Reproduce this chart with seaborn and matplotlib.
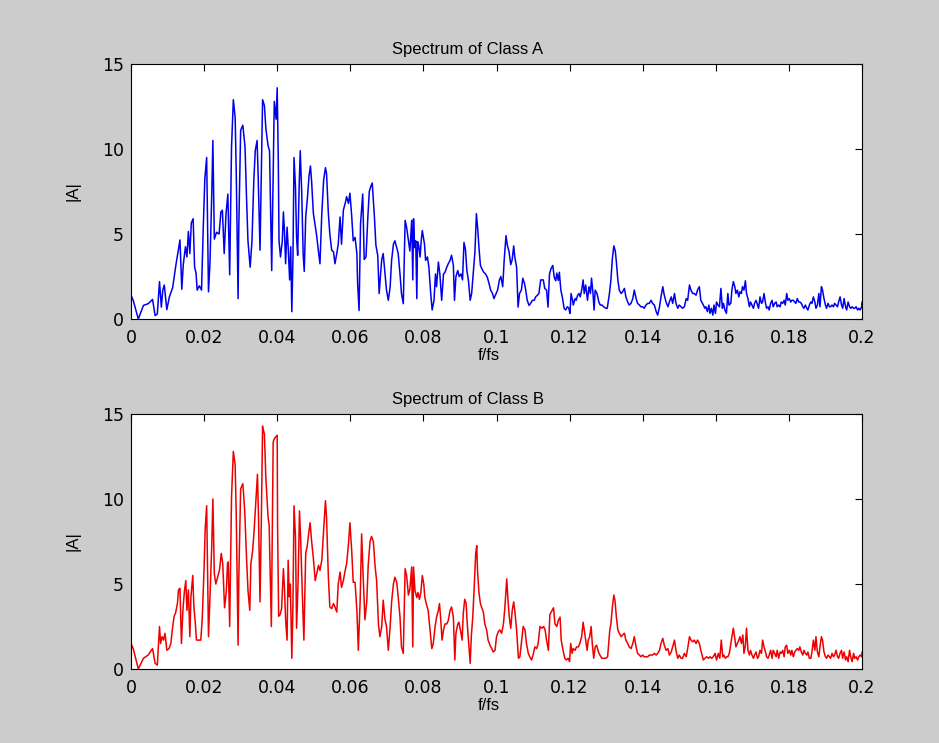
import matplotlib
matplotlib.use("Agg")
import matplotlib.pyplot as plt
import pandas as pd
import seaborn as sns

# Spectrum vertices (normalised frequency f/fs, magnitude |A|)
freq_a = [
    0.0000, 0.0006, 0.0020, 0.0034, 0.0047, 0.0059, 0.0066, 0.0072, 0.0078, 0.0083,
    0.0087, 0.0091, 0.0098, 0.0105, 0.0114, 0.0123, 0.0130, 0.0134, 0.0139, 0.0143,
    0.0149, 0.0153, 0.0157, 0.0161, 0.0165, 0.0170, 0.0174, 0.0178, 0.0181, 0.0187,
    0.0193, 0.0198, 0.0202, 0.0207, 0.0212, 0.0216, 0.0221, 0.0224, 0.0228, 0.0234,
    0.0241, 0.0246, 0.0250, 0.0255, 0.0260, 0.0265, 0.0270, 0.0275, 0.0280, 0.0285,
    0.0288, 0.0293, 0.0295, 0.0300, 0.0306, 0.0312, 0.0316, 0.0320, 0.0326, 0.0331,
    0.0336, 0.0340, 0.0345, 0.0348, 0.0353, 0.0357, 0.0360, 0.0365, 0.0369, 0.0375,
    0.0379, 0.0382, 0.0385, 0.0392, 0.0397, 0.0400, 0.0403, 0.0405, 0.0409, 0.0414,
    0.0417, 0.0420, 0.0423, 0.0427, 0.0430, 0.0434, 0.0437, 0.0440, 0.0443, 0.0446,
    0.0450, 0.0453, 0.0456, 0.0460, 0.0463, 0.0467, 0.0471, 0.0474, 0.0478, 0.0483,
    0.0487, 0.0491, 0.0494, 0.0499, 0.0504, 0.0508, 0.0513, 0.0517, 0.0522, 0.0527,
    0.0532, 0.0535, 0.0540, 0.0544, 0.0549, 0.0554, 0.0558, 0.0563, 0.0567, 0.0572,
    0.0576, 0.0581, 0.0586, 0.0590, 0.0595, 0.0599, 0.0604, 0.0608, 0.0613, 0.0618,
    0.0620, 0.0624, 0.0628, 0.0634, 0.0638, 0.0643, 0.0648, 0.0652, 0.0656, 0.0660,
    0.0666, 0.0670, 0.0675, 0.0679, 0.0682, 0.0686, 0.0690, 0.0695, 0.0699, 0.0704,
    0.0709, 0.0713, 0.0718, 0.0722, 0.0727, 0.0731, 0.0736, 0.0740, 0.0745, 0.0750,
    0.0754, 0.0759, 0.0763, 0.0768, 0.0771, 0.0773, 0.0776, 0.0779, 0.0782, 0.0784,
    0.0787, 0.0791, 0.0794, 0.0797, 0.0800, 0.0803, 0.0806, 0.0811, 0.0815, 0.0820,
    0.0824, 0.0829, 0.0833, 0.0836, 0.0841, 0.0845, 0.0850, 0.0855, 0.0859, 0.0864,
    0.0868, 0.0873, 0.0877, 0.0882, 0.0885, 0.0889, 0.0894, 0.0898, 0.0903, 0.0907,
    0.0911, 0.0915, 0.0919, 0.0923, 0.0928, 0.0932, 0.0937, 0.0941, 0.0945, 0.0949,
    0.0952, 0.0956, 0.0960, 0.0965, 0.0970, 0.0975, 0.0980, 0.0984, 0.0989, 0.0993,
    0.0999, 0.1003, 0.1008, 0.1012, 0.1017, 0.1021, 0.1026, 0.1030, 0.1034, 0.1039,
    0.1043, 0.1047, 0.1050, 0.1055, 0.1059, 0.1063, 0.1068, 0.1072, 0.1077, 0.1080,
    0.1084, 0.1089, 0.1093, 0.1098, 0.1103, 0.1107, 0.1112, 0.1116, 0.1121, 0.1124,
    0.1128, 0.1132, 0.1137, 0.1141, 0.1145, 0.1149, 0.1154, 0.1158, 0.1162, 0.1165,
    0.1169, 0.1172, 0.1176, 0.1180, 0.1185, 0.1189, 0.1194, 0.1198, 0.1201, 0.1204,
    0.1208, 0.1210, 0.1215, 0.1218, 0.1222, 0.1226, 0.1229, 0.1233, 0.1237, 0.1240,
    0.1244, 0.1249, 0.1253, 0.1257, 0.1260, 0.1264, 0.1267, 0.1270, 0.1275, 0.1280,
    0.1284, 0.1289, 0.1293, 0.1299, 0.1303, 0.1309, 0.1313, 0.1317, 0.1321, 0.1325,
    0.1328, 0.1332, 0.1336, 0.1341, 0.1345, 0.1350, 0.1354, 0.1359, 0.1363, 0.1368,
    0.1373, 0.1377, 0.1382, 0.1386, 0.1391, 0.1395, 0.1400, 0.1404, 0.1409, 0.1414,
    0.1418, 0.1423, 0.1427, 0.1432, 0.1437, 0.1441, 0.1446, 0.1450, 0.1455, 0.1459,
    0.1464, 0.1469, 0.1473, 0.1478, 0.1482, 0.1487, 0.1491, 0.1496, 0.1500, 0.1505,
    0.1509, 0.1514, 0.1519, 0.1523, 0.1528, 0.1532, 0.1537, 0.1541, 0.1546, 0.1550,
    0.1555, 0.1559, 0.1566, 0.1570, 0.1573, 0.1577, 0.1581, 0.1584, 0.1588, 0.1592,
    0.1595, 0.1599, 0.1602, 0.1606, 0.1610, 0.1614, 0.1618, 0.1621, 0.1625, 0.1629,
    0.1633, 0.1636, 0.1641, 0.1644, 0.1648, 0.1652, 0.1655, 0.1659, 0.1663, 0.1666,
    0.1670, 0.1673, 0.1677, 0.1681, 0.1684, 0.1688, 0.1692, 0.1695, 0.1699, 0.1703,
    0.1706, 0.1710, 0.1714, 0.1717, 0.1721, 0.1725, 0.1728, 0.1732, 0.1736, 0.1739,
    0.1743, 0.1746, 0.1750, 0.1754, 0.1757, 0.1761, 0.1765, 0.1768, 0.1772, 0.1776,
    0.1779, 0.1783, 0.1787, 0.1790, 0.1794, 0.1797, 0.1801, 0.1805, 0.1808, 0.1812,
    0.1816, 0.1819, 0.1823, 0.1827, 0.1830, 0.1834, 0.1838, 0.1841, 0.1845, 0.1849,
    0.1852, 0.1856, 0.1860, 0.1863, 0.1867, 0.1871, 0.1874, 0.1878, 0.1882, 0.1885,
    0.1889, 0.1892, 0.1896, 0.1900, 0.1903, 0.1907, 0.1911, 0.1914, 0.1918, 0.1922,
    0.1925, 0.1929, 0.1933, 0.1936, 0.1940, 0.1944, 0.1947, 0.1951, 0.1955, 0.1958,
    0.1962, 0.1966, 0.1969, 0.1973, 0.1977, 0.1980, 0.1984, 0.1988, 0.1991, 0.1995,
    0.1999, 0.2000,
]
amp_a = [
    1.40, 1.10, 0.00, 0.80, 0.90, 1.15, 0.20, 0.30, 2.20, 0.70,
    1.70, 2.00, 0.55, 1.30, 1.85, 3.20, 4.10, 4.65, 1.75, 3.20,
    4.25, 3.65, 5.15, 3.85, 5.65, 5.90, 3.05, 2.70, 1.70, 1.95,
    1.70, 5.60, 8.25, 9.50, 1.60, 3.25, 7.35, 10.50, 4.70, 5.10,
    5.00, 6.30, 6.40, 3.85, 6.20, 7.35, 2.60, 10.10, 12.90, 11.85,
    8.55, 1.20, 5.50, 11.10, 11.40, 10.10, 7.20, 4.60, 3.05, 4.60,
    8.15, 9.90, 10.50, 8.35, 4.05, 8.90, 12.90, 12.55, 11.20, 10.20,
    9.90, 6.30, 2.85, 12.80, 11.75, 13.60, 9.30, 4.60, 3.65, 4.60,
    6.30, 5.10, 3.25, 5.40, 4.25, 2.30, 4.25, 0.43, 3.45, 9.50,
    7.75, 4.80, 3.75, 7.75, 9.90, 7.50, 3.85, 2.80, 6.00, 7.20,
    8.40, 9.00, 8.15, 6.20, 5.50, 4.90, 3.95, 3.25, 6.20, 8.15,
    8.90, 8.55, 6.20, 5.00, 4.05, 3.95, 3.25, 3.85, 4.40, 6.00,
    4.40, 6.40, 6.80, 7.20, 6.80, 7.40, 6.00, 4.60, 4.80, 3.85,
    2.10, 0.50, 5.60, 7.35, 3.50, 3.65, 6.00, 7.50, 7.80, 8.00,
    6.00, 4.35, 3.75, 1.50, 2.40, 3.50, 3.85, 2.65, 1.70, 1.10,
    1.90, 3.45, 4.40, 4.60, 4.20, 3.85, 2.65, 1.50, 0.90, 5.80,
    5.40, 4.60, 4.00, 5.80, 2.30, 5.90, 4.20, 4.60, 1.20, 4.55,
    4.35, 3.65, 4.60, 5.20, 4.80, 4.40, 3.45, 3.65, 3.05, 1.50,
    0.53, 1.10, 2.65, 1.90, 3.35, 2.65, 1.10, 2.65, 2.75, 3.05,
    3.25, 3.45, 3.75, 3.15, 1.10, 2.50, 2.85, 2.50, 2.65, 2.30,
    4.50, 4.10, 2.85, 2.30, 1.10, 1.50, 2.85, 3.95, 6.20, 5.20,
    4.20, 3.15, 2.95, 2.75, 2.65, 2.45, 2.05, 1.70, 1.50, 1.20,
    1.50, 1.70, 2.30, 2.50, 1.90, 3.45, 4.90, 4.30, 4.00, 3.20,
    3.50, 4.30, 3.65, 3.05, 0.70, 1.50, 1.70, 2.40, 2.05, 1.70,
    1.10, 0.80, 0.90, 1.10, 1.10, 1.30, 1.40, 1.50, 2.30, 2.30,
    2.30, 1.80, 1.70, 0.70, 2.65, 2.95, 3.15, 2.45, 2.25, 2.70,
    2.27, 2.75, 1.70, 1.30, 0.63, 0.53, 0.72, 0.63, 0.33, 1.50,
    1.10, 0.82, 1.20, 1.10, 1.40, 1.50, 1.30, 1.70, 2.30, 1.50,
    2.00, 1.10, 1.90, 1.50, 2.40, 1.50, 0.53, 1.70, 1.50, 1.00,
    0.82, 0.82, 0.72, 0.63, 0.63, 1.50, 2.30, 3.55, 4.30, 4.00,
    3.35, 2.30, 1.70, 1.50, 1.60, 1.80, 1.30, 1.00, 0.82, 0.92,
    1.20, 1.70, 1.20, 0.92, 0.82, 0.72, 0.72, 0.63, 0.82, 0.92,
    0.92, 1.10, 0.92, 0.82, 0.43, 0.23, 0.72, 1.30, 1.90, 1.40,
    1.00, 0.72, 1.00, 1.30, 0.92, 1.50, 0.92, 0.63, 0.82, 0.72,
    0.63, 0.72, 1.20, 1.10, 2.00, 1.70, 1.50, 1.50, 1.40, 1.70,
    1.90, 1.10, 0.82, 0.63, 0.72, 0.43, 0.82, 0.33, 0.63, 0.23,
    0.82, 0.33, 1.00, 0.82, 0.72, 1.80, 0.63, 0.92, 0.53, 0.33,
    1.50, 0.82, 0.92, 1.70, 2.20, 1.90, 1.50, 1.70, 1.30, 1.60,
    1.50, 1.90, 1.70, 2.25, 1.50, 1.20, 0.72, 1.00, 0.82, 0.63,
    0.92, 1.10, 0.82, 0.63, 1.30, 0.92, 1.00, 1.50, 0.92, 0.63,
    0.72, 0.53, 0.92, 1.10, 0.72, 0.92, 1.00, 0.72, 0.82, 0.72,
    1.00, 0.92, 1.10, 0.82, 1.50, 1.10, 1.20, 1.00, 1.10, 1.10,
    1.00, 0.92, 1.20, 1.00, 1.00, 0.92, 0.72, 0.63, 0.82, 0.63,
    0.53, 0.82, 1.00, 0.92, 1.30, 1.00, 0.63, 0.82, 1.50, 0.72,
    1.90, 1.70, 1.20, 0.82, 0.63, 0.92, 0.72, 0.72, 0.82, 0.72,
    0.92, 0.82, 0.72, 1.00, 1.30, 0.82, 0.63, 1.20, 0.72, 0.53,
    1.00, 0.72, 0.63, 0.72, 0.63, 0.63, 0.72, 0.53, 0.63, 0.53,
    0.72, 1.00,
]

freq_b = [
    0.0000, 0.0006, 0.0020, 0.0034, 0.0047, 0.0059, 0.0066, 0.0072, 0.0078, 0.0081,
    0.0085, 0.0089, 0.0093, 0.0098, 0.0104, 0.0109, 0.0113, 0.0118, 0.0122, 0.0127,
    0.0130, 0.0134, 0.0138, 0.0142, 0.0146, 0.0150, 0.0153, 0.0157, 0.0161, 0.0164,
    0.0169, 0.0172, 0.0176, 0.0179, 0.0185, 0.0191, 0.0195, 0.0200, 0.0203, 0.0207,
    0.0212, 0.0216, 0.0221, 0.0224, 0.0228, 0.0232, 0.0237, 0.0242, 0.0247, 0.0251,
    0.0256, 0.0261, 0.0264, 0.0266, 0.0270, 0.0275, 0.0280, 0.0285, 0.0288, 0.0293,
    0.0295, 0.0300, 0.0306, 0.0311, 0.0316, 0.0320, 0.0325, 0.0328, 0.0333, 0.0337,
    0.0342, 0.0346, 0.0349, 0.0353, 0.0357, 0.0360, 0.0365, 0.0369, 0.0375, 0.0378,
    0.0381, 0.0384, 0.0389, 0.0392, 0.0396, 0.0400, 0.0401, 0.0404, 0.0408, 0.0412,
    0.0417, 0.0420, 0.0423, 0.0427, 0.0430, 0.0433, 0.0436, 0.0440, 0.0443, 0.0446,
    0.0450, 0.0453, 0.0457, 0.0461, 0.0464, 0.0469, 0.0473, 0.0478, 0.0482, 0.0486,
    0.0490, 0.0494, 0.0499, 0.0504, 0.0508, 0.0513, 0.0517, 0.0522, 0.0527, 0.0532,
    0.0535, 0.0540, 0.0544, 0.0549, 0.0554, 0.0558, 0.0563, 0.0567, 0.0572, 0.0576,
    0.0581, 0.0586, 0.0590, 0.0595, 0.0599, 0.0604, 0.0608, 0.0613, 0.0618, 0.0622,
    0.0627, 0.0631, 0.0636, 0.0640, 0.0645, 0.0649, 0.0654, 0.0658, 0.0663, 0.0668,
    0.0672, 0.0677, 0.0681, 0.0686, 0.0690, 0.0695, 0.0699, 0.0704, 0.0709, 0.0713,
    0.0718, 0.0722, 0.0727, 0.0731, 0.0736, 0.0740, 0.0745, 0.0750, 0.0754, 0.0759,
    0.0763, 0.0768, 0.0771, 0.0773, 0.0777, 0.0782, 0.0785, 0.0789, 0.0793, 0.0797,
    0.0801, 0.0804, 0.0809, 0.0813, 0.0818, 0.0823, 0.0827, 0.0832, 0.0836, 0.0841,
    0.0844, 0.0847, 0.0851, 0.0855, 0.0859, 0.0864, 0.0868, 0.0873, 0.0877, 0.0882,
    0.0886, 0.0889, 0.0894, 0.0897, 0.0902, 0.0906, 0.0909, 0.0913, 0.0917, 0.0920,
    0.0924, 0.0928, 0.0931, 0.0935, 0.0939, 0.0943, 0.0946, 0.0948, 0.0952, 0.0956,
    0.0959, 0.0964, 0.0968, 0.0973, 0.0977, 0.0982, 0.0987, 0.0991, 0.0996, 0.1000,
    0.1005, 0.1009, 0.1014, 0.1019, 0.1023, 0.1028, 0.1031, 0.1035, 0.1039, 0.1043,
    0.1047, 0.1050, 0.1055, 0.1060, 0.1064, 0.1069, 0.1073, 0.1078, 0.1082, 0.1087,
    0.1091, 0.1096, 0.1100, 0.1105, 0.1110, 0.1114, 0.1119, 0.1124, 0.1129, 0.1133,
    0.1137, 0.1142, 0.1146, 0.1151, 0.1156, 0.1160, 0.1165, 0.1169, 0.1174, 0.1177,
    0.1182, 0.1187, 0.1191, 0.1196, 0.1200, 0.1203, 0.1207, 0.1210, 0.1215, 0.1219,
    0.1224, 0.1228, 0.1233, 0.1237, 0.1240, 0.1244, 0.1248, 0.1251, 0.1255, 0.1259,
    0.1262, 0.1266, 0.1270, 0.1274, 0.1279, 0.1283, 0.1288, 0.1292, 0.1299, 0.1304,
    0.1310, 0.1313, 0.1317, 0.1321, 0.1324, 0.1328, 0.1332, 0.1336, 0.1341, 0.1345,
    0.1350, 0.1354, 0.1359, 0.1363, 0.1368, 0.1373, 0.1377, 0.1382, 0.1386, 0.1391,
    0.1395, 0.1400, 0.1404, 0.1409, 0.1414, 0.1418, 0.1423, 0.1427, 0.1432, 0.1437,
    0.1441, 0.1446, 0.1450, 0.1455, 0.1459, 0.1464, 0.1469, 0.1473, 0.1478, 0.1482,
    0.1487, 0.1491, 0.1496, 0.1500, 0.1505, 0.1509, 0.1514, 0.1519, 0.1523, 0.1528,
    0.1532, 0.1537, 0.1541, 0.1546, 0.1550, 0.1555, 0.1559, 0.1566, 0.1570, 0.1575,
    0.1580, 0.1584, 0.1589, 0.1593, 0.1598, 0.1602, 0.1607, 0.1611, 0.1615, 0.1619,
    0.1622, 0.1626, 0.1630, 0.1633, 0.1637, 0.1641, 0.1644, 0.1648, 0.1652, 0.1655,
    0.1659, 0.1663, 0.1666, 0.1670, 0.1674, 0.1677, 0.1681, 0.1684, 0.1688, 0.1692,
    0.1695, 0.1699, 0.1703, 0.1706, 0.1710, 0.1714, 0.1717, 0.1721, 0.1725, 0.1728,
    0.1732, 0.1736, 0.1739, 0.1743, 0.1746, 0.1750, 0.1754, 0.1757, 0.1761, 0.1765,
    0.1768, 0.1772, 0.1776, 0.1779, 0.1783, 0.1787, 0.1790, 0.1794, 0.1797, 0.1801,
    0.1805, 0.1808, 0.1812, 0.1816, 0.1819, 0.1823, 0.1827, 0.1830, 0.1834, 0.1838,
    0.1841, 0.1845, 0.1849, 0.1852, 0.1856, 0.1860, 0.1863, 0.1867, 0.1871, 0.1874,
    0.1878, 0.1882, 0.1885, 0.1889, 0.1892, 0.1896, 0.1900, 0.1903, 0.1907, 0.1911,
    0.1914, 0.1918, 0.1922, 0.1925, 0.1929, 0.1933, 0.1936, 0.1940, 0.1944, 0.1947,
    0.1951, 0.1955, 0.1958, 0.1962, 0.1966, 0.1969, 0.1973, 0.1977, 0.1980, 0.1984,
    0.1988, 0.1991, 0.1995, 0.1999, 0.2000,
]
amp_b = [
    1.50, 1.20, 0.00, 0.63, 0.82, 1.20, 0.33, 0.23, 2.50, 1.50,
    1.90, 1.70, 2.10, 1.10, 1.20, 1.50, 2.30, 3.10, 3.30, 3.85,
    4.65, 4.75, 1.50, 3.45, 4.55, 5.20, 3.45, 4.65, 1.90, 4.25,
    5.50, 3.65, 2.70, 1.70, 1.70, 1.70, 3.00, 6.00, 8.25, 9.60,
    1.90, 4.20, 7.30, 10.00, 5.60, 5.00, 5.40, 5.80, 6.80, 6.20,
    3.60, 4.60, 6.20, 6.30, 2.50, 10.10, 12.80, 12.00, 9.00, 1.40,
    5.40, 10.60, 10.90, 9.35, 6.60, 4.65, 3.45, 6.20, 7.00, 8.20,
    9.95, 11.45, 8.80, 3.95, 9.35, 14.30, 13.80, 11.20, 8.95, 8.45,
    5.40, 2.50, 13.35, 13.55, 13.65, 13.75, 8.40, 3.10, 3.20, 3.55,
    5.90, 4.70, 2.90, 1.70, 6.40, 4.25, 5.00, 0.63, 3.65, 9.60,
    7.75, 2.40, 5.00, 9.30, 7.75, 4.25, 1.70, 6.80, 7.20, 7.95,
    8.60, 7.55, 6.50, 5.20, 5.60, 6.10, 5.80, 6.40, 8.15, 9.90,
    8.90, 5.40, 3.65, 3.55, 3.85, 3.65, 3.35, 5.00, 5.70, 4.80,
    5.20, 5.80, 6.20, 7.35, 8.60, 6.90, 5.10, 5.10, 3.45, 1.10,
    4.05, 7.95, 5.00, 2.90, 3.95, 6.10, 7.50, 7.80, 7.50, 6.00,
    5.20, 2.65, 1.90, 2.50, 4.05, 2.90, 2.50, 1.10, 2.50, 3.95,
    5.00, 5.40, 5.10, 4.25, 3.05, 1.30, 0.92, 5.90, 5.50, 4.35,
    4.70, 6.00, 1.30, 6.00, 4.60, 4.20, 4.50, 4.10, 4.50, 5.50,
    5.00, 4.20, 3.75, 3.45, 2.30, 1.20, 1.50, 2.50, 3.05, 3.45,
    3.85, 3.05, 1.70, 2.30, 2.65, 2.65, 2.85, 3.45, 3.65, 3.05,
    0.53, 2.10, 2.65, 2.75, 2.20, 1.70, 3.25, 4.10, 3.85, 2.65,
    1.50, 0.33, 1.90, 3.05, 4.80, 6.80, 7.25, 5.80, 4.50, 3.85,
    3.65, 3.35, 2.65, 2.30, 1.70, 1.40, 1.20, 1.00, 1.10, 1.90,
    2.20, 2.30, 2.10, 2.65, 3.65, 5.30, 4.20, 3.05, 2.40, 3.45,
    3.95, 3.45, 2.30, 0.63, 0.72, 1.70, 2.50, 2.30, 1.50, 0.92,
    0.72, 0.53, 0.82, 1.30, 1.20, 1.50, 2.50, 2.40, 2.50, 2.30,
    1.70, 1.10, 3.20, 3.40, 3.60, 2.65, 2.50, 2.85, 3.05, 1.70,
    1.10, 0.63, 0.53, 0.63, 0.43, 1.50, 0.92, 1.20, 1.10, 1.30,
    1.30, 1.50, 1.90, 2.75, 2.30, 1.70, 1.10, 1.70, 1.90, 2.50,
    1.50, 0.63, 1.30, 1.40, 1.00, 0.82, 0.63, 0.63, 0.63, 0.72,
    2.30, 2.65, 3.65, 4.35, 4.05, 3.05, 2.30, 2.10, 1.90, 2.00,
    2.10, 1.70, 1.50, 1.30, 1.20, 1.50, 1.90, 1.30, 0.92, 0.82,
    0.72, 0.82, 0.72, 0.72, 0.72, 0.82, 0.82, 0.82, 0.92, 0.82,
    0.92, 1.10, 1.50, 1.80, 1.40, 1.10, 1.20, 0.82, 1.00, 1.30,
    1.70, 1.10, 0.63, 0.82, 0.63, 0.63, 0.92, 0.72, 1.20, 1.90,
    1.70, 1.60, 1.70, 1.50, 1.70, 1.50, 1.10, 0.53, 0.63, 0.72,
    0.63, 0.72, 0.63, 0.72, 0.92, 0.53, 0.92, 0.63, 1.70, 0.72,
    0.82, 0.63, 0.72, 0.72, 0.92, 1.50, 1.90, 2.40, 1.80, 1.30,
    1.50, 1.70, 1.90, 1.50, 2.00, 0.92, 1.40, 2.40, 1.10, 0.82,
    1.10, 0.82, 0.63, 0.82, 1.00, 0.63, 0.72, 1.10, 0.92, 1.70,
    1.30, 1.00, 0.72, 0.63, 0.82, 1.10, 0.63, 1.10, 0.92, 0.72,
    1.10, 0.63, 1.00, 0.92, 1.10, 0.72, 1.30, 1.40, 0.92, 1.10,
    0.82, 1.10, 0.72, 1.00, 1.10, 1.20, 1.10, 1.30, 1.00, 0.82,
    1.10, 0.92, 0.82, 1.00, 0.63, 0.63, 1.00, 1.70, 1.10, 1.90,
    1.00, 0.72, 1.30, 1.90, 1.70, 1.00, 0.72, 0.63, 0.82, 0.72,
    0.63, 0.92, 0.72, 0.82, 1.10, 0.72, 0.63, 0.92, 1.10, 0.63,
    1.00, 0.53, 0.72, 0.43, 1.10, 0.72, 0.43, 0.92, 0.63, 0.72,
    0.53, 0.72, 0.82, 0.72, 1.00,
]

titles = ["Spectrum of Class A", "Spectrum of Class B"]
line_colors = ["#0000ee", "#ee0000"]
x_ticks = [0, 0.02, 0.04, 0.06, 0.08, 0.1, 0.12, 0.14, 0.16, 0.18, 0.2]
x_tick_labels = ["0", "0.02", "0.04", "0.06", "0.08", "0.1", "0.12", "0.14", "0.16", "0.18", "0.2"]
y_ticks = [0, 5, 10, 15]

sns.set_theme(style="white")
plt.rcParams["font.family"] = ["Liberation Sans", "DejaVu Sans"]

W, H = 939, 743
fig = plt.figure(figsize=(W / 100, H / 100), dpi=100, facecolor="#cccccc")

panels = [
    (pd.DataFrame({"f": freq_a, "amp": amp_a}), 64),
    (pd.DataFrame({"f": freq_b, "amp": amp_b}), 414),
]
left, width, height = 131, 731, 255

for i, (df, top) in enumerate(panels):
    ax = fig.add_axes([left / W, 1 - (top + height) / H, width / W, height / H])
    ax.set_facecolor("white")
    sns.lineplot(data=df, x="f", y="amp", ax=ax, color=line_colors[i],
                 linewidth=1.1, estimator=None, sort=False)
    ax.set_xlim(0, 0.2)
    ax.set_ylim(0, 15)
    ax.set_xticks(x_ticks)
    ax.set_xticklabels(x_tick_labels)
    ax.set_yticks(y_ticks)
    ax.tick_params(direction="in", length=5, width=0.8, color="black",
                   top=True, right=True, labelcolor="black")
    ax.tick_params(axis="x", pad=7)
    ax.tick_params(axis="y", pad=5)
    for lab in ax.get_xticklabels() + ax.get_yticklabels():
        lab.set_family(["DejaVu Sans"])
        lab.set_fontsize(12.5)
    for sp in ax.spines.values():
        sp.set_visible(True)
        sp.set_color("black")
        sp.set_linewidth(0.8)
    ax.set_xlabel("f/fs", fontsize=12, color="black")
    ax.xaxis.set_label_coords((489 - left) / width, -29 / height)
    ax.set_ylabel("|A|", fontsize=12, color="black")
    ax.yaxis.set_label_coords(-(131 - 81) / width, 0.5)
    ax.set_title(titles[i], fontsize=12, color="black", x=(468 - left) / width, pad=7)

fig.savefig("out.png", dpi=100, facecolor=fig.get_facecolor())
